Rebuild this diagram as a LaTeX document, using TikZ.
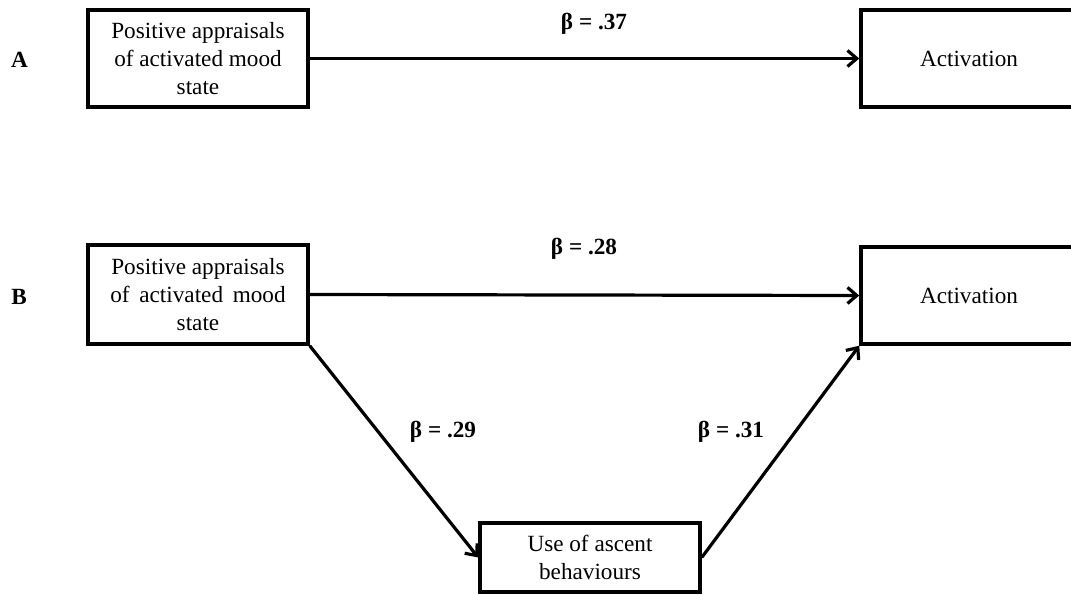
\documentclass[tikz,border=0pt]{standalone}
\usepackage{fontspec}
\setmainfont{Liberation Serif}
\usetikzlibrary{arrows.meta}
\tikzset{
  box/.style={draw=black, line width=2.6pt, rectangle, inner sep=0pt, align=center,
    font=\fontsize{17.4pt}{21pt}\selectfont},
  conn/.style={line width=2.4pt, -{Straight Barb[length=7pt,width=12pt,line width=2.4pt]}},
  beta/.style={font=\fontsize{17.4pt}{21pt}\selectfont\bfseries, inner sep=0pt},
  panel/.style={font=\fontsize{17.4pt}{21pt}\selectfont\bfseries, inner sep=0pt}
}
\begin{document}
\begin{tikzpicture}[x=0.75pt,y=-0.75pt]
\useasboundingbox (0,0) rectangle (1071,594);
\clip (0,0) rectangle (1071,594);
% panel A
\node[panel] (la) at (19.5,60) {A};
\node[box, minimum width=165pt, minimum height=72.75pt] (a1) at (198,58.5)
  {Positive appraisals\\of activated mood\\state};
\node[box, minimum width=162pt, minimum height=72.75pt] (a2) at (969,58.5) {Activation};
\draw[conn] (a1.east) -- (a2.west);
\node[beta] (b37) at (594,24) {β = .37};
% panel B
\node[panel] (lb) at (19,297) {B};
\node[box, minimum width=165pt, minimum height=74.25pt] (b1) at (198,294.5)
  {Positive appraisals\\of\, activated\, mood\\state};
\node[box, minimum width=162pt, minimum height=72.75pt] (b2) at (969,295.5) {Activation};
\node[box, minimum width=165pt, minimum height=51.75pt] (c) at (590,557.5)
  {Use of ascent\\behaviours};
\draw[conn] (b1.east) -- (b2.west);
\draw[conn] (b1.south east) -- (c.west);
\draw[conn] (c.east) -- (b2.south west);
\node[beta] (b28) at (584,249) {β = .28};
\node[beta] (b29) at (443,432) {β = .29};
\node[beta] (b31) at (731,432) {β = .31};
\end{tikzpicture}
\end{document}
